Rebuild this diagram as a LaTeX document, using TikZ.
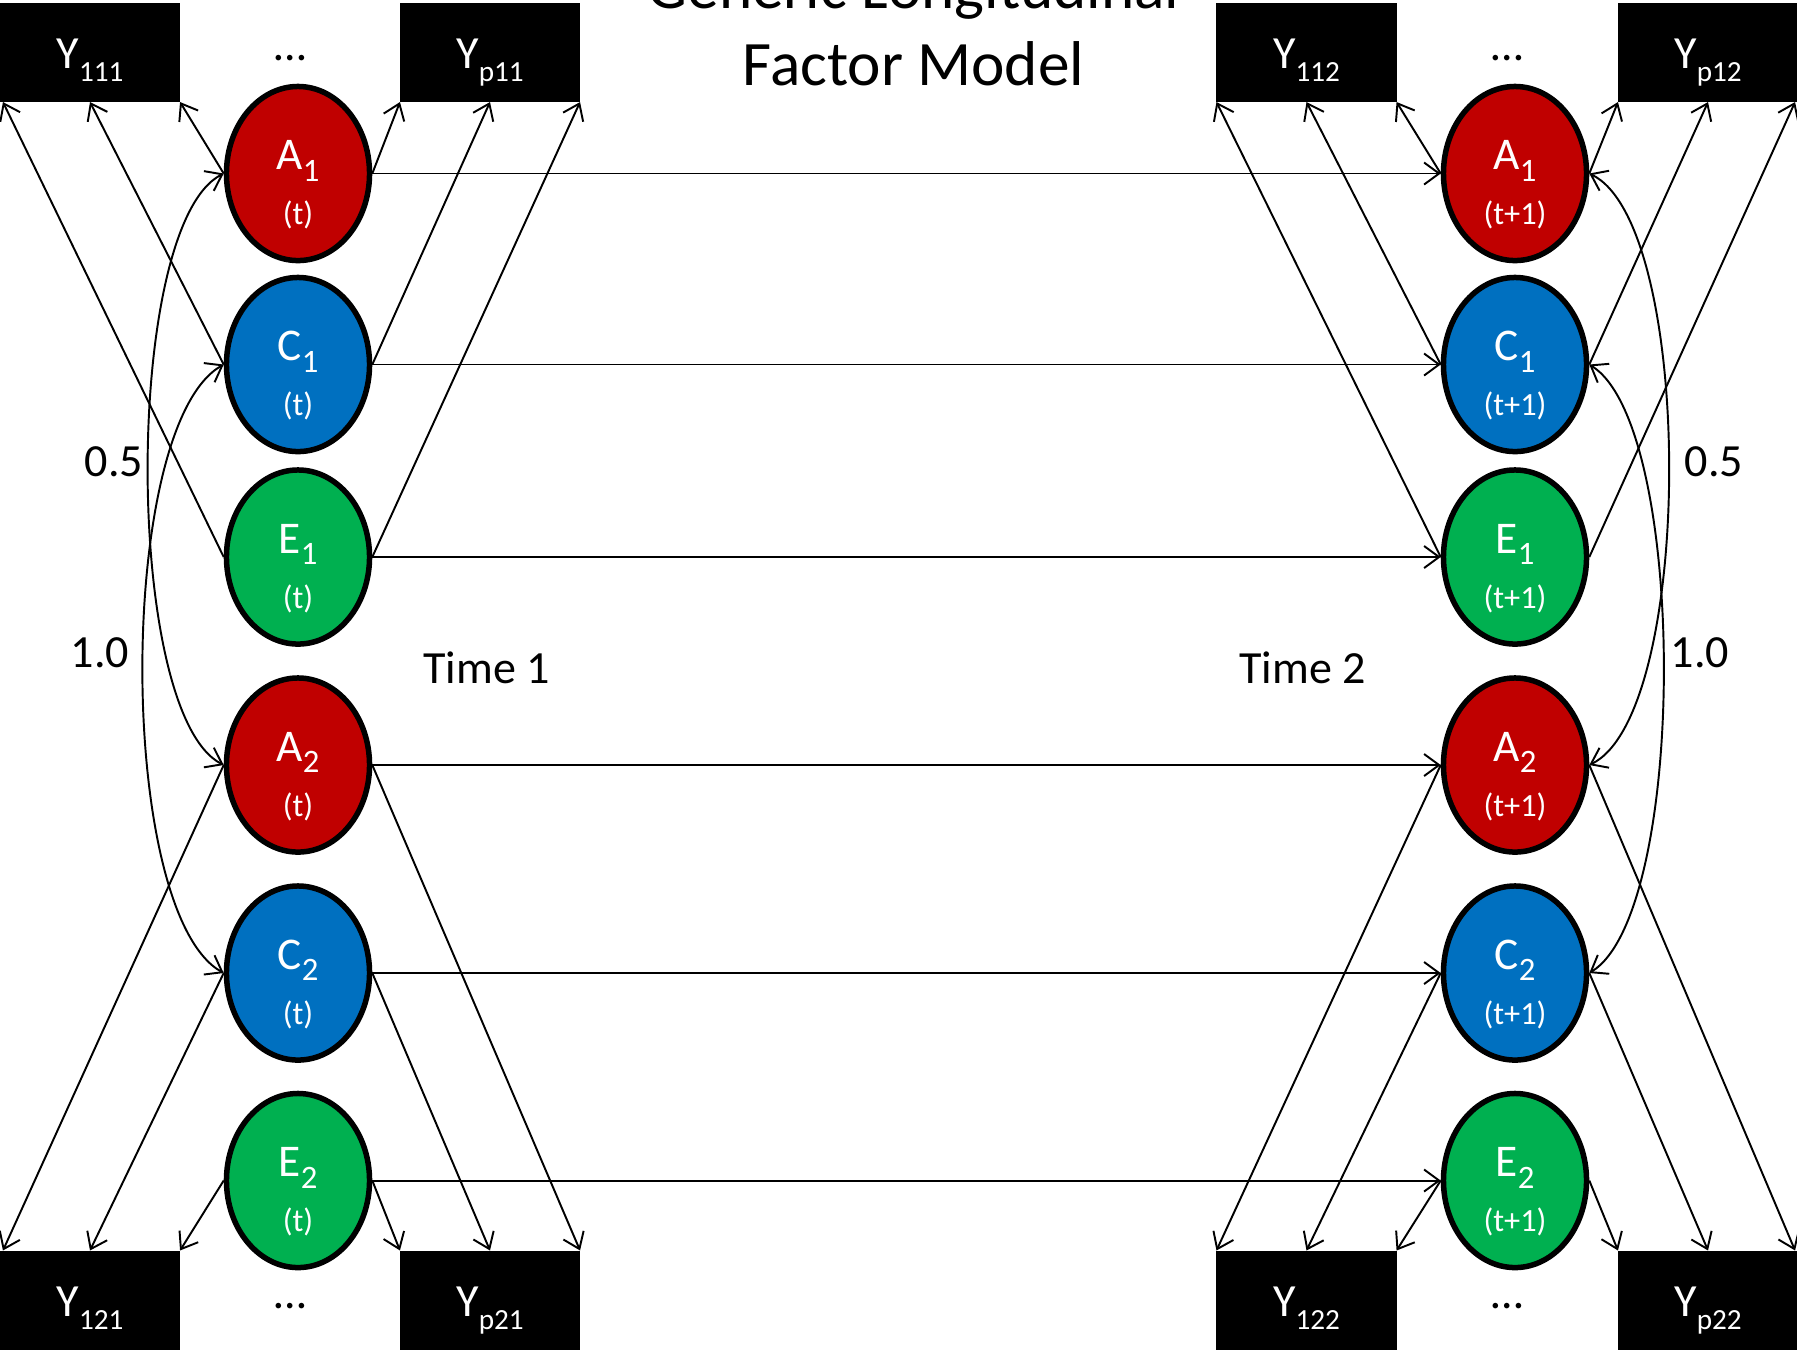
\documentclass[tikz,border=0pt]{standalone}
\usepackage{fontspec}
\setmainfont{Carlito}
\usetikzlibrary{arrows.meta,shapes.geometric}
\definecolor{fred}{HTML}{C00000}
\definecolor{fblue}{HTML}{0070C0}
\definecolor{fgreen}{HTML}{00B050}
\newcommand\obsv[1]{Y\raisebox{-0.13cm}{\fontsize{8.3}{9}\selectfont #1}}
\newcommand\latsub[2]{#1\raisebox{-0.115cm}{\fontsize{9.3}{10}\selectfont #2}}
\newcommand\factornode[6]{%
  \node[factor, fill=#4] (#1) at (#2,#3) {};
  \node[flabel] (#1l) at ([yshift=0.037cm]#1.center) {#5};
  \node[tlabel] (#1t) at ([yshift=-0.51cm]#1.center) {#6};
}
\tikzset{
  barb/.tip={Straight Barb[length=0.15cm,width=0.22cm]},
  conn/.style={line width=0.55pt, -barb},
  corr/.style={line width=0.55pt, barb-barb},
  factor/.style={ellipse, draw=black, line width=0.055cm, minimum width=1.43cm, minimum height=1.74cm, inner sep=0pt},
  obs/.style={rectangle, fill=black, minimum width=1.8cm, minimum height=0.99cm, inner sep=0pt, outer sep=0pt, text=white, font=\fontsize{13.1}{15}\selectfont, text height=0.36cm, text depth=0.04cm},
  flabel/.style={text=white, font=\fontsize{12.9}{15}\selectfont, inner sep=0pt, anchor=base},
  tlabel/.style={text=white, font=\fontsize{9.2}{11}\selectfont, inner sep=0pt, anchor=base},
  plain/.style={font=\fontsize{13.1}{15}\selectfont, inner sep=0pt},
}
\begin{document}
\begin{tikzpicture}[x=0.01cm, y=-0.01cm]
\useasboundingbox (0,0) rectangle (1797,1353);

% title
\node[align=center, font=\fontsize{18}{21.9}\selectfont, inner sep=0pt, anchor=south] (title) at (913.5,87) {Generic Longitudinal\\Factor Model};

% observed boxes
\node[obs] (y111) at (90,52.5) {\obsv{111}};
\node[obs] (yp11) at (490,52.5) {\obsv{p11}};
\node[obs] (y112) at (1306.5,52.5) {\obsv{112}};
\node[obs] (yp12) at (1708,52.5) {\obsv{p12}};
\node[obs] (y121) at (90,1300) {\obsv{121}};
\node[obs] (yp21) at (490,1300) {\obsv{p21}};
\node[obs] (y122) at (1306.5,1300) {\obsv{122}};
\node[obs] (yp22) at (1708,1300) {\obsv{p22}};

% dots
\node[plain, anchor=base] (dotsTL) at (290,60) {…};
\node[plain, anchor=base] (dotsTR) at (1507,60) {…};
\node[plain, anchor=base] (dotsBL) at (290,1308) {…};
\node[plain, anchor=base] (dotsBR) at (1507,1308) {…};

% factors time 1
\factornode{a1}{298}{173.5}{fred}{\latsub{A}{1}}{(t)}
\factornode{c1}{298}{364.5}{fblue}{\latsub{C}{1}}{(t)}
\factornode{e1}{298}{557}{fgreen}{\latsub{E}{1}}{(t)}
\factornode{a2}{298}{765}{fred}{\latsub{A}{2}}{(t)}
\factornode{c2}{298}{973}{fblue}{\latsub{C}{2}}{(t)}
\factornode{e2}{298}{1180.5}{fgreen}{\latsub{E}{2}}{(t)}
% factors time 2
\factornode{a1r}{1515}{173.5}{fred}{\latsub{A}{1}}{(t+1)}
\factornode{c1r}{1515}{364.5}{fblue}{\latsub{C}{1}}{(t+1)}
\factornode{e1r}{1515}{557}{fgreen}{\latsub{E}{1}}{(t+1)}
\factornode{a2r}{1515}{765}{fred}{\latsub{A}{2}}{(t+1)}
\factornode{c2r}{1515}{973}{fblue}{\latsub{C}{2}}{(t+1)}
\factornode{e2r}{1515}{1180.5}{fgreen}{\latsub{E}{2}}{(t+1)}

% labels
\node[plain] (l05) at (114,461.5) {0.5};
\node[plain] (l10) at (100,653) {1.0};
\node[plain] (r05) at (1714,461.5) {0.5};
\node[plain] (r10) at (1700,653) {1.0};
\node[plain, anchor=base] (time1) at (486.5,683) {Time 1};
\node[plain, anchor=base] (time2) at (1302.5,683) {Time 2};

% loadings time 1
\draw[conn] (a1.west) -- (y111.south east);
\draw[conn] (c1.west) -- (y111.south);
\draw[conn] (e1.west) -- ([xshift=0.03cm]y111.south west);
\draw[conn] (a1.east) -- (yp11.south west);
\draw[conn] (c1.east) -- (yp11.south);
\draw[conn] (e1.east) -- (yp11.south east);
\draw[conn] (a2.west) -- ([xshift=0.03cm]y121.north west);
\draw[conn] (c2.west) -- (y121.north);
\draw[conn] (e2.west) -- (y121.north east);
\draw[conn] (e2.east) -- (yp21.north west);
\draw[conn] (c2.east) -- (yp21.north);
\draw[conn] (a2.east) -- (yp21.north east);
% loadings time 2
\draw[conn] (a1r.west) -- (y112.south east);
\draw[conn] (c1r.west) -- (y112.south);
\draw[conn] (e1r.west) -- (y112.south west);
\draw[conn] (a1r.east) -- (yp12.south west);
\draw[conn] (c1r.east) -- (yp12.south);
\draw[conn] (e1r.east) -- ([xshift=-0.03cm]yp12.south east);
\draw[conn] (a2r.west) -- (y122.north west);
\draw[conn] (c2r.west) -- (y122.north);
\draw[conn] (e2r.west) -- (y122.north east);
\draw[conn] (e2r.east) -- (yp22.north west);
\draw[conn] (c2r.east) -- (yp22.north);
\draw[conn] (a2r.east) -- ([xshift=-0.03cm]yp22.north east);

% autoregressive paths
\draw[conn] (a1.east) -- (a1r.west);
\draw[conn] (c1.east) -- (c1r.west);
\draw[conn] (e1.east) -- (e1r.west);
\draw[conn] (a2.east) -- (a2r.west);
\draw[conn] (c2.east) -- (c2r.west);
\draw[conn] (e2.east) -- (e2r.west);

% correlations
\draw[corr] (a1.west) .. controls (123,224) and (123,714) .. (a2.west);
\draw[corr] (c1.west) .. controls (116,425) and (116,913) .. (c2.west);
\draw[corr] (a1r.east) .. controls (1695,224) and (1695,714) .. (a2r.east);
\draw[corr] (c1r.east) .. controls (1688,425) and (1688,913) .. (c2r.east);
\end{tikzpicture}
\end{document}
